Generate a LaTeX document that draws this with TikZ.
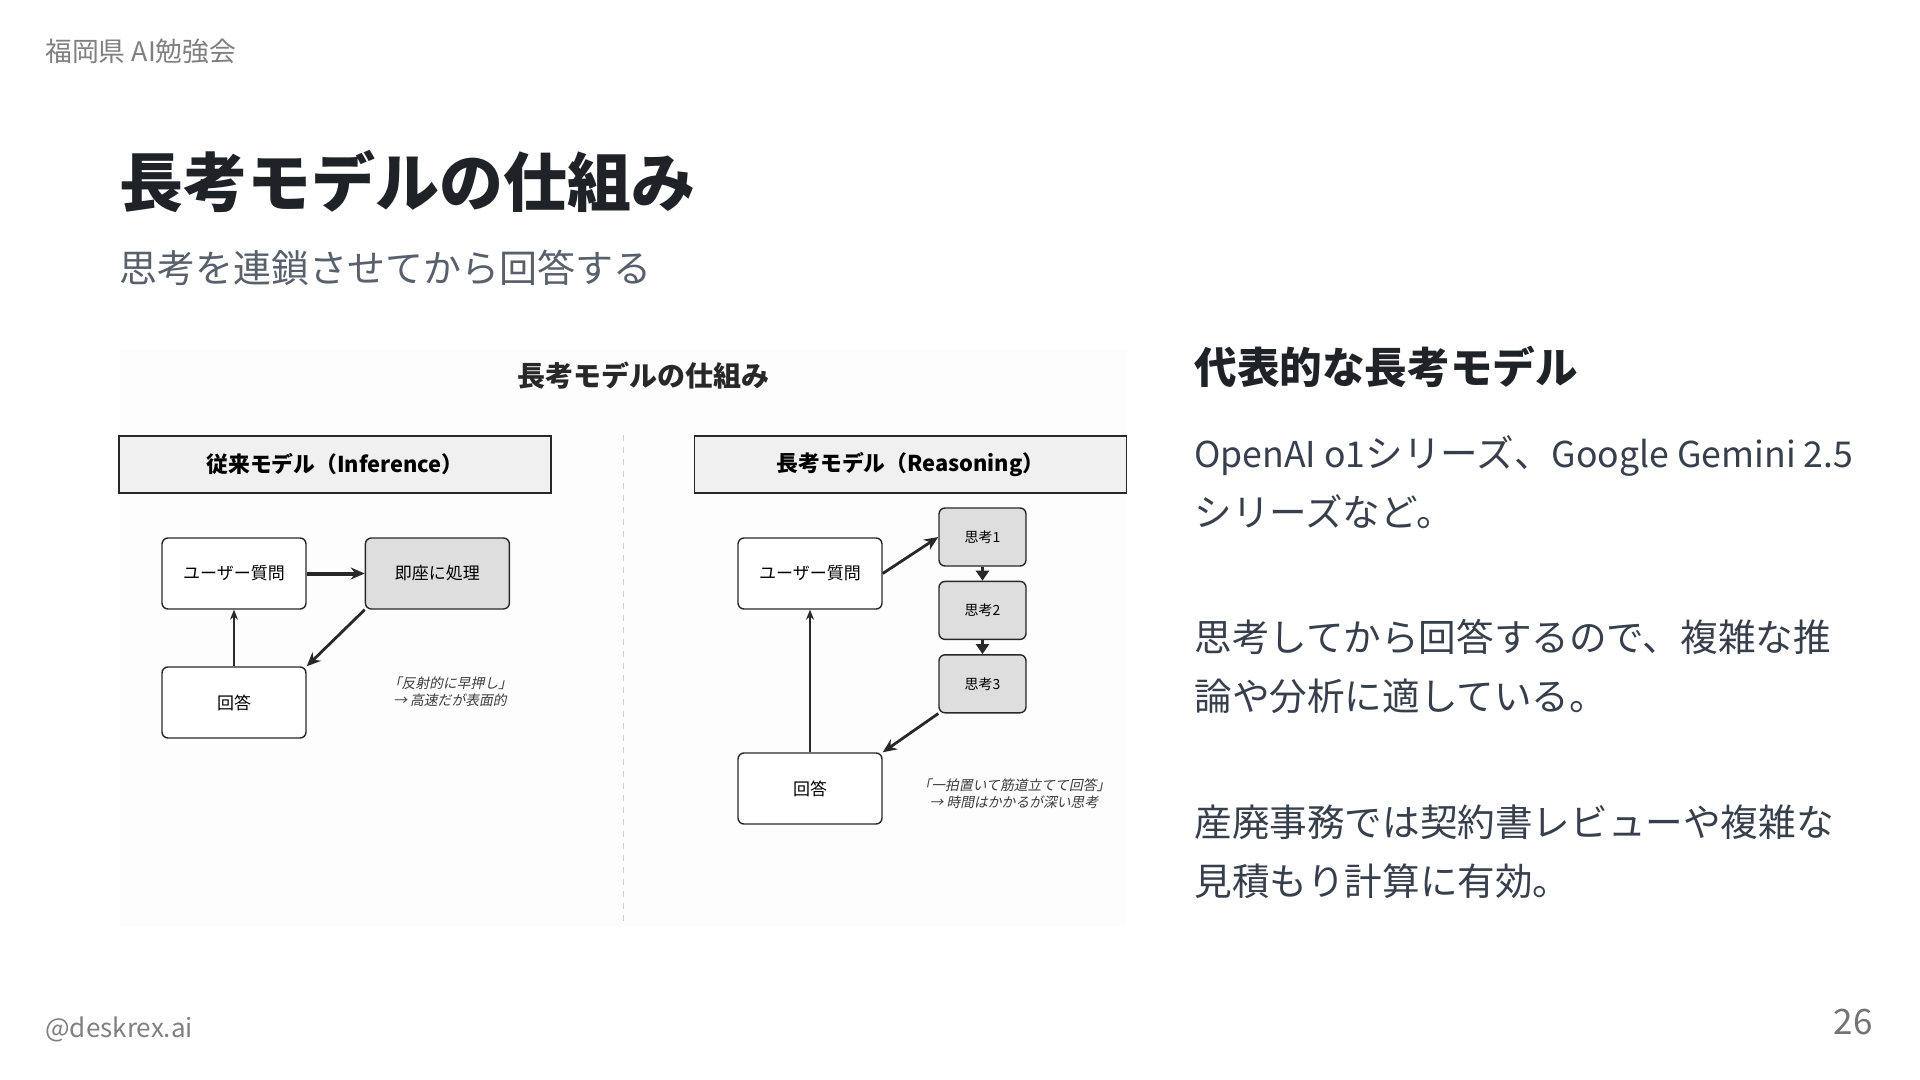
\documentclass[tikz,border=0pt]{standalone}
\usepackage{fontspec}
\usepackage{xcolor}
\setmainfont{Noto Sans CJK JP}
\newfontfamily\notefont[FakeSlant=0.2]{Noto Sans CJK JP}
\usetikzlibrary{arrows.meta, positioning}
\definecolor{slideInk}{RGB}{31,35,40}
\definecolor{slideSub}{RGB}{88,96,108}
\definecolor{slideBody}{RGB}{55,63,76}
\definecolor{slideMuted}{RGB}{128,128,128}
\definecolor{boxLine}{RGB}{40,40,40}
\definecolor{headFill}{RGB}{240,240,240}
\definecolor{thinkFill}{RGB}{222,222,222}
\definecolor{noteInk}{RGB}{60,60,60}
\newcommand{\latinrun}[1]{{\fontsize{17.8}{29.5}\selectfont #1}}

\begin{document}
\begin{tikzpicture}[x=0.5pt, y=-0.5pt,
    headbox/.style={draw=boxLine, line width=0.8pt, fill=headFill, minimum width=216pt, minimum height=28.5pt,
    font=\fontsize{10.9}{12}\selectfont\bfseries},
    stepbox/.style={draw=boxLine, line width=0.7pt, rounded corners=3pt, fill=white, minimum width=72pt,
    minimum height=35.5pt, font=\fontsize{8.5}{10}\selectfont},
    thinkbox/.style={stepbox, fill=thinkFill, minimum width=43.5pt, minimum height=29pt, font=\fontsize{7}{8}\selectfont},
    note/.style={align=center, text=noteInk, font=\notefont\fontsize{6.9}{8.5}\selectfont},
    para/.style={align=left, inner sep=0pt, anchor=north west, text=slideBody, font=\fontsize{18.8}{29.5}\selectfont},
    flow/.style={-{Stealth[length=7pt, width=6pt]}, line width=1.4pt, draw=boxLine},
    back/.style={-{Stealth[length=5pt, width=4pt]}, line width=0.6pt, draw=boxLine},
    chain/.style={-{Triangle[length=5pt, width=6.5pt]}, line width=1.2pt, draw=boxLine}
  ]
  \fill[white] (0,0) rectangle (1920,1080);
  \useasboundingbox (0,0) rectangle (1920,1080);

  \node[anchor=west, inner sep=0pt, text=slideMuted, font=\fontsize{13.4}{15}\selectfont] (event) at (45,51) {福岡県 AI勉強会};
  \node[anchor=west, inner sep=0pt, text=slideInk, font=\fontsize{32}{38}\selectfont\bfseries] (title) at (119,182) {長考モデルの仕組み};
  \node[anchor=west, inner sep=0pt, text=slideSub, font=\fontsize{19}{23}\selectfont] (subtitle) at (119,268) {思考を連鎖させてから回答する};

  \fill[black!0.8] (119,349) rectangle (1127,927);
  \draw[dashed, draw=black!18, line width=0.5pt] (623,435) -- (623,925);
  \node[font=\fontsize{14}{16}\selectfont\bfseries, text=boxLine] (dtitle) at (643,376) {長考モデルの仕組み};

  \node[headbox] (lhead) at (335,464.5) {従来モデル（Inference）};
  \node[stepbox] (lquery) at (234,573.5) {ユーザー質問};
  \node[stepbox, fill=thinkFill, right=29pt of lquery] (lfast) {即座に処理};
  \node[stepbox] (lanswer) at (234,702.5) {回答};
  \node[note] (lnote) at (450,691.5) {「反射的に早押し」\\→ 高速だが表面的};

  \draw[flow, line width=2pt] (lquery) -- (lfast);
  \draw[flow] (lfast.south west) -- (lanswer.north east);
  \draw[back] (lanswer) -- (lquery);

  \node[headbox] (rhead) at (910.5,464.5) {長考モデル（Reasoning）};
  \node[stepbox] (rquery) at (810,573.5) {ユーザー質問};
  \node[thinkbox] (think1) at (982.5,537) {思考1};
  \node[thinkbox, below=7pt of think1] (think2) {思考2};
  \node[thinkbox, below=7pt of think2] (think3) {思考3};
  \node[stepbox] (ranswer) at (810,788.5) {回答};
  \node[note] (rnote) at (1014,793.5) {「一拍置いて筋道立てて回答」\\→ 時間はかかるが深い思考};

  \draw[flow] (rquery.east) -- (think1.west);
  \draw[chain] (think1) -- (think2);
  \draw[chain] (think2) -- (think3);
  \draw[flow] (think3.south west) -- (ranswer.north east);
  \draw[back] (ranswer) -- (rquery);

  \node[anchor=west, inner sep=0pt, text=slideInk, font=\fontsize{21.3}{25}\selectfont\bfseries] (sidehead) at (1194,367) {代表的な長考モデル};
  \node[para] (para1) at (1194,435) {\latinrun{OpenAI o1}シリーズ、\latinrun{Google Gemini 2.5}\\シリーズなど。};
  \node[para] (para2) at (1194,619) {思考してから回答するので、複雑な推\\論や分析に適している。};
  \node[para] (para3) at (1194,804) {産廃事務では契約書レビューや複雑な\\見積もり計算に有効。};

  \node[anchor=west, inner sep=0pt, text=slideMuted, font=\fontsize{13}{15}\selectfont] (handle) at (45,1029) {@deskrex.ai};
  \node[anchor=east, inner sep=0pt, text=slideMuted!90!black, font=\fontsize{17.5}{20}\selectfont] (page) at (1873,1022) {26};
\end{tikzpicture}
\end{document}
